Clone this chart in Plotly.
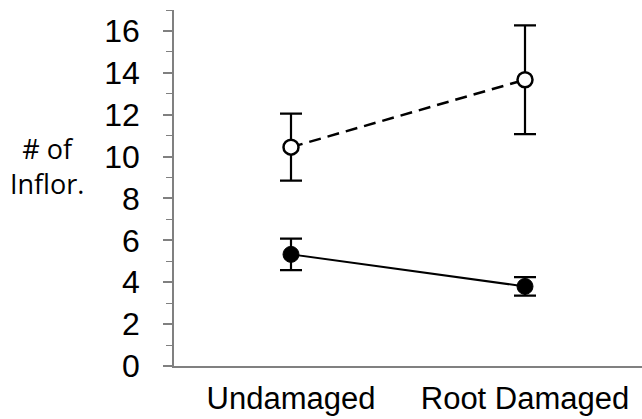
import plotly.graph_objects as go

categories = ["Undamaged", "Root Damaged"]
open_means = [10.45, 13.67]
open_err = [1.6, 2.6]
filled_means = [5.33, 3.8]
filled_err = [0.75, 0.44]
y_ticks = [0, 2, 4, 6, 8, 10, 12, 14, 16]
y_title = "# of<br>Inflor."

xpos = list(range(len(categories)))

fig = go.Figure()
fig.add_trace(go.Scatter(
    x=xpos, y=open_means, mode="lines+markers",
    line=dict(color="black", width=2.5, dash="12px,7px"),
    marker=dict(symbol="circle", size=15, color="white", line=dict(color="black", width=2.5)),
    error_y=dict(type="data", array=open_err, visible=True, color="black", thickness=2.2, width=11),
    showlegend=False,
))
fig.add_trace(go.Scatter(
    x=xpos, y=filled_means, mode="lines+markers",
    line=dict(color="black", width=2),
    marker=dict(symbol="circle", size=16, color="black", line=dict(color="black", width=1)),
    error_y=dict(type="data", array=filled_err, visible=True, color="black", thickness=2.2, width=11),
    showlegend=False,
))

fig.update_layout(
    width=642, height=419,
    margin=dict(l=174, r=0, t=10, b=53, autoexpand=False),
    paper_bgcolor="white", plot_bgcolor="white",
    font=dict(family="Liberation Sans, Arial", color="black"),
    xaxis=dict(
        range=[-0.5, 1.5], tickvals=xpos, ticktext=categories, automargin=False,
        showgrid=False, zeroline=False, showline=True, linecolor="#808080", linewidth=1.5,
        ticks="", tickfont=dict(size=31), ticklabelstandoff=4,
    ),
    yaxis=dict(
        range=[0, 17], tickvals=y_ticks, automargin=False,
        showgrid=False, zeroline=False, showline=True, linecolor="#808080", linewidth=1.5,
        ticks="outside", ticklen=9, tickwidth=1.5, tickcolor="#808080",
        tickfont=dict(size=32), ticklabelstandoff=17,
        minor=dict(dtick=1, ticks="outside", ticklen=6, tickwidth=1.2, tickcolor="#808080", showgrid=False),
    ),
    annotations=[dict(
        text=y_title, xref="paper", yref="paper",
        x=(47 - 174) / 468, y=(366 - 166) / 356, xanchor="center", yanchor="middle",
        showarrow=False, font=dict(size=27, family="Open Sans, Liberation Sans"),
        align="center",
    )],
)
fig.write_html(
    "out.html",
    config={"displayModeBar": False},
    post_script="document.body.style.margin='0';document.body.style.overflow='hidden';",
)
